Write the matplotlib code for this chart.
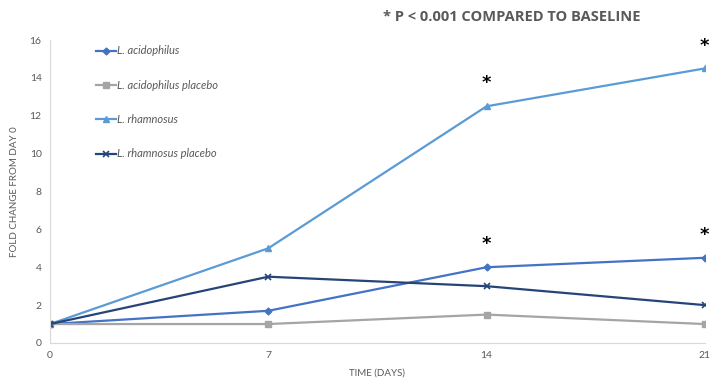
import matplotlib
matplotlib.use("Agg")
import matplotlib.pyplot as plt

days = [0, 7, 14, 21]
acid = [1.0, 1.7, 4.0, 4.5]
acid_placebo = [1.0, 1.0, 1.5, 1.0]
rham = [1.0, 5.0, 12.5, 14.5]
rham_placebo = [1.0, 3.5, 3.0, 2.0]

# significance stars: (day, value)
stars = [(14, 12.5), (21, 14.5), (14, 4.0), (21, 4.5)]

plt.rcParams['font.family'] = ['Lato', 'DejaVu Sans']
txt = '#595959'

fig = plt.figure(figsize=(7.16, 3.8), dpi=100)
ax = fig.add_axes([0.0698, 0.0974, 0.9146, 0.7973])

ax.plot(days, acid, color='#4472C4', lw=1.6, marker='D', ms=3.5, label='L. acidophilus')
ax.plot(days, acid_placebo, color='#A5A5A5', lw=1.6, marker='s', ms=5, label='L. acidophilus placebo')
ax.plot(days, rham, color='#5B9BD5', lw=1.6, marker='^', ms=5, label='L. rhamnosus')
ax.plot(days, rham_placebo, color='#264478', lw=1.6, marker='x', ms=5, mew=1.2, label='L. rhamnosus placebo')

for d, v in stars:
    ax.annotate('*', (d, v), xytext=(0, 10), textcoords='offset points',
                ha='center', va='bottom', fontsize=13, fontweight='bold', color='black',
                family=['DejaVu Sans'])

ax.set_xlim(0, 21)
ax.set_ylim(0, 16)
ax.set_xticks(days)
ax.set_yticks(range(0, 17, 2))
ax.tick_params(length=0, labelsize=7.5, colors=txt, pad=6)
for s in ['top', 'right']:
    ax.spines[s].set_visible(False)
for s in ['left', 'bottom']:
    ax.spines[s].set_color('#D9D9D9')
    ax.spines[s].set_linewidth(0.8)

ax.set_xlabel('TIME (DAYS)', fontsize=7, color=txt, labelpad=6)
ax.set_ylabel('FOLD CHANGE FROM DAY 0', fontsize=7, color=txt, labelpad=8)

leg = ax.legend(loc='upper left', bbox_to_anchor=(0.055, 1.015), frameon=False,
                labelspacing=2.1, handlelength=1.8, handletextpad=0.1,
                prop={'size': 8, 'style': 'italic'})
for t in leg.get_texts():
    t.set_color(txt)

fig.text(0.535, 0.955, '* P < 0.001 COMPARED TO BASELINE', fontsize=10.5,
         fontweight='bold', color=txt, ha='left', va='center',
         family=['Open Sans', 'DejaVu Sans'])

fig.savefig('out.png', dpi=100)
